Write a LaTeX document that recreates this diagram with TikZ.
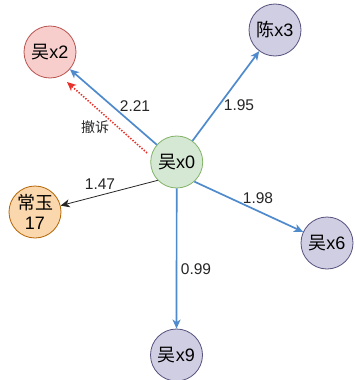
\documentclass[tikz,border=0pt]{standalone}
\usepackage{fontspec}
\setmainfont{Liberation Sans}
\newfontfamily\cjk{Noto Sans CJK SC}
\usetikzlibrary{arrows.meta}
\definecolor{gfill}{HTML}{D5E8D4}\definecolor{gdraw}{HTML}{82B366}
\definecolor{rfill}{HTML}{F8CECC}\definecolor{rdraw}{HTML}{B85450}
\definecolor{pfill}{HTML}{D0CEE2}\definecolor{pdraw}{HTML}{56517E}
\definecolor{ofill}{HTML}{FAD7AC}\definecolor{odraw}{HTML}{B46504}
\definecolor{blueln}{HTML}{4F8ACD}
\definecolor{redln}{HTML}{E8312A}
\begin{document}
\begin{tikzpicture}[x=1pt,y=-1pt,
  circ/.style={circle,draw,line width=0.8pt,minimum size=52pt,inner sep=0pt,align=center,font=\fontsize{18}{20}\selectfont},
  green/.style={circ,fill=gfill,draw=gdraw},
  red/.style={circ,fill=rfill,draw=rdraw},
  purple/.style={circ,fill=pfill,draw=pdraw},
  orange/.style={circ,fill=ofill,draw=odraw},
  bluearrow/.style={draw=blueln,line width=1.7pt,-{Stealth[length=9pt,width=8pt,inset=2.5pt]}},
  blackarrow/.style={draw=black!85,line width=0.8pt,-{Stealth[length=9pt,width=8pt,inset=2.5pt]}},
  redarrow/.style={draw=redln,line width=1.6pt,dash pattern=on 1.4pt off 1.6pt,-{Stealth[length=9pt,width=8pt,inset=2.5pt,fill=redln]}},
  elabel/.style={font=\fontsize{15.5}{17}\selectfont,inner sep=0pt,text=black!85},
]
\fill[white] (0,0) rectangle (354,380);
\useasboundingbox (0,0) rectangle (354,380);

\node[green]  (x0) at (176.7,162) {{\cjk 吴}x0};
\node[red]    (x2) at (50,52)   {{\cjk 吴}x2};
\node[purple] (x3) at (275,30)  {{\cjk 陈}x3};
\node[orange] (cy) at (35,212)  {{\cjk 常玉}\\17};
\node[purple] (x6) at (327,243) {{\cjk 吴}x6};
\node[purple] (x9) at (176.5,355) {{\cjk 吴}x9};

\coordinate (rs) at (147,153);
\coordinate (re) at (67,82);

\draw[bluearrow] (x0) -- (x2);
\draw[bluearrow] (x0) -- (x3);
\draw[bluearrow] (x0.-48) -- (x6.155);
\draw[bluearrow] (x0) -- (x9);
\draw[blackarrow] (x0.224) -- (cy.14);
\draw[redarrow] (rs) -- (re);

\node[elabel] (l221) at (135,106) {2.21};
\node[elabel] (lcs) at (95,127) {\cjk\fontsize{14}{16}\selectfont 撤诉};
\node[elabel] (l195) at (239,105) {1.95};
\node[elabel] (l147) at (100,184) {1.47};
\node[elabel] (l198) at (258,198) {1.98};
\node[elabel] (l099) at (196,269) {0.99};
\end{tikzpicture}
\end{document}
